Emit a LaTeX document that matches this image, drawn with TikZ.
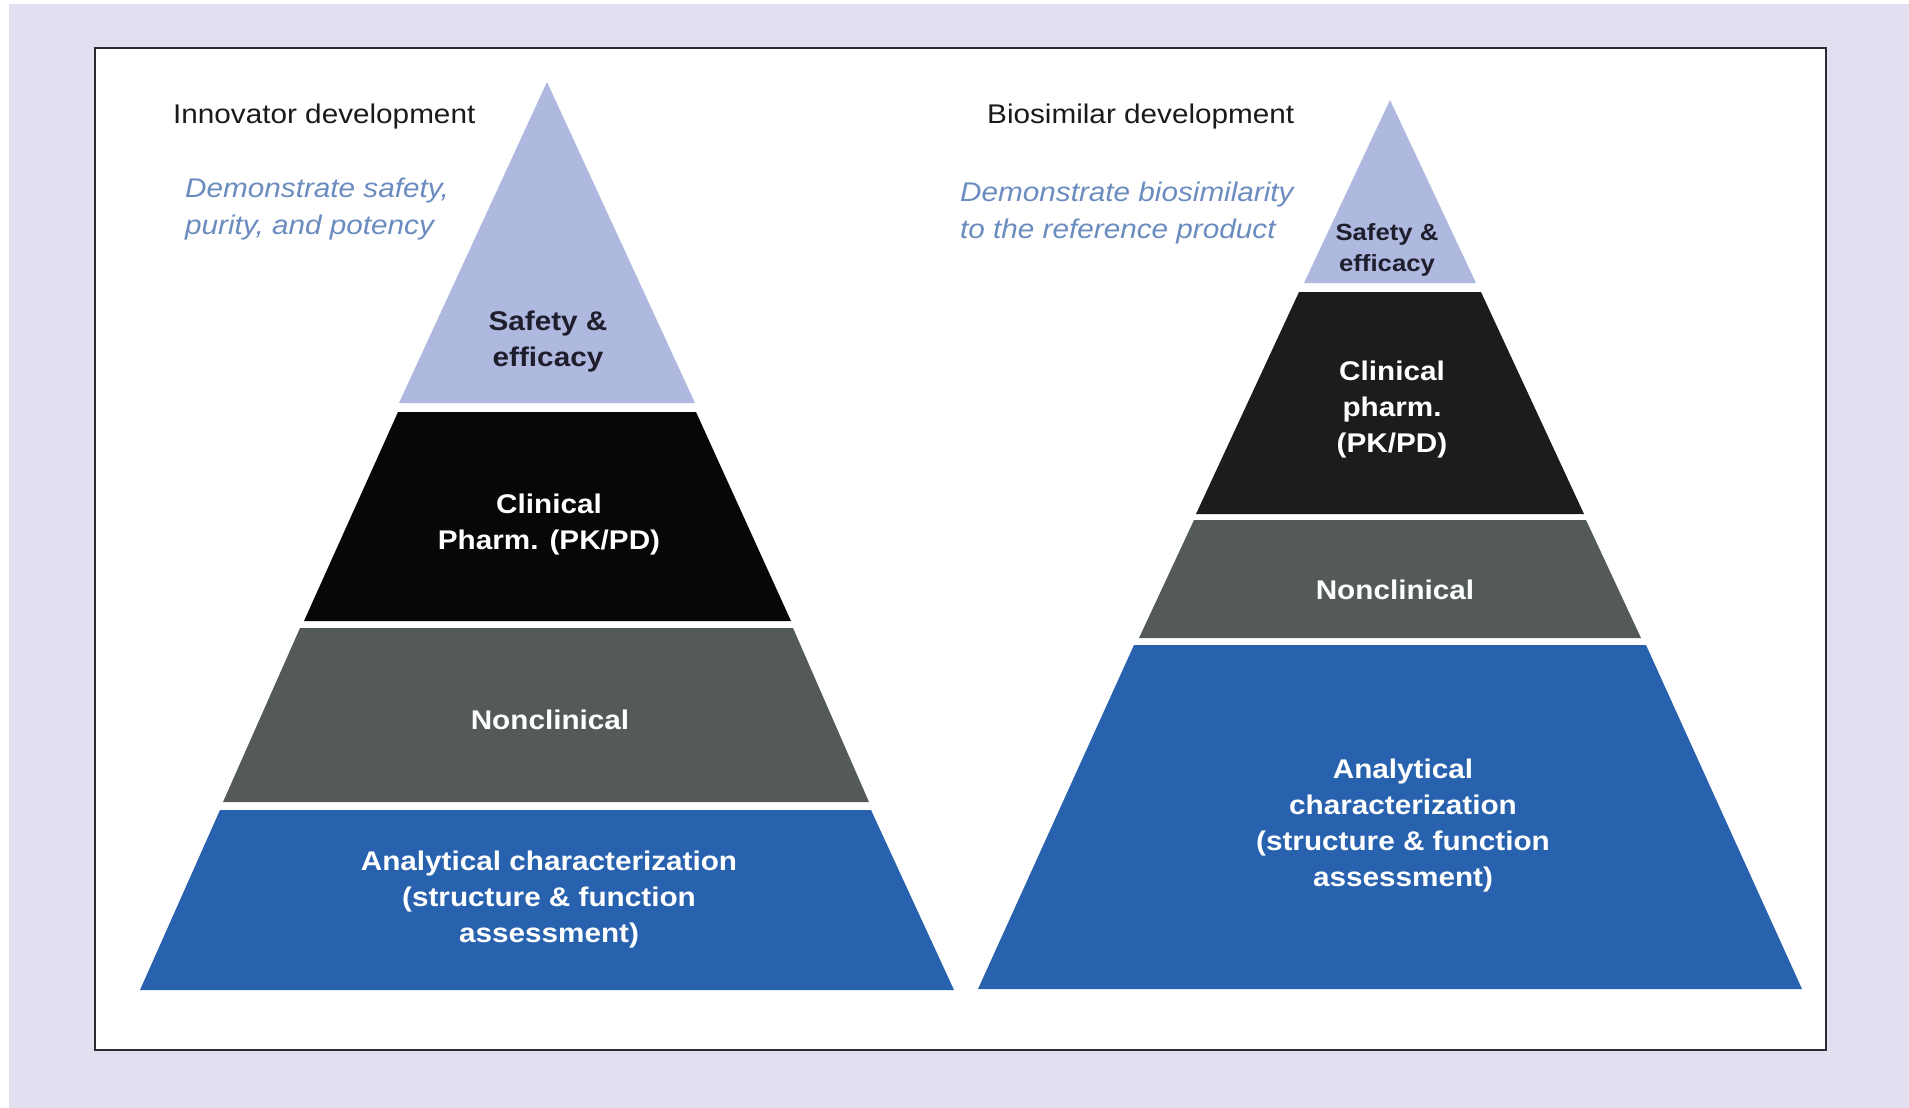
\documentclass[tikz,border=0pt]{standalone}
\usepackage{fontspec}
\setmainfont{Liberation Sans}[FakeStretch=1.1]
\definecolor{pagebg}{HTML}{E3DFF0}
\definecolor{framecol}{HTML}{2B2B33}
\definecolor{tierS}{HTML}{AFB8DE}
\definecolor{tierCL}{HTML}{070707}
\definecolor{tierCR}{HTML}{1C1B1D}
\definecolor{tierN}{HTML}{545A5A}
\definecolor{tierA}{HTML}{2862AE}
\definecolor{goalblue}{HTML}{6B8CBF}
\definecolor{darktext}{HTML}{1E1E2C}
\definecolor{titletext}{HTML}{1A1A1A}
\begin{document}
\begin{tikzpicture}[x=1pt,y=-1pt,
  tierlabel/.style={font=\bfseries\fontsize{27}{36}\selectfont, text=white, align=center, inner sep=0pt},
  heading/.style={font=\fontsize{27}{36}\selectfont, text=titletext, inner sep=0pt, anchor=base west},
  goal/.style={font=\itshape\fontsize{27}{36.5}\selectfont, text=goalblue, inner sep=0pt, align=left, anchor=north west}]
\useasboundingbox (0,0) rectangle (1909,1108);
% page and panel
\fill[white] (0,0) rectangle (1909,1108);
\fill[pagebg] (9,4) rectangle (1909,1108);
\draw[framecol, line width=2.5pt, fill=white] (95,48) rectangle (1826,1050);

% innovator pyramid
\fill[tierS]  (547,82) -- (695,403) -- (399,403) -- cycle;
\fill[tierCL] (398,412) -- (696,412) -- (791,621) -- (304,621) -- cycle;
\fill[tierN]  (300,628) -- (793,628) -- (869,802) -- (223,802) -- cycle;
\fill[tierA]  (220,810) -- (871,810) -- (954,990) -- (140,990) -- cycle;

% biosimilar pyramid
\fill[tierS]  (1390,100) -- (1476,283) -- (1304,283) -- cycle;
\fill[tierCR] (1299,292) -- (1481,292) -- (1584,514) -- (1196,514) -- cycle;
\fill[tierN]  (1194,520) -- (1586,520) -- (1641,638) -- (1139,638) -- cycle;
\fill[tierA]  (1134,645) -- (1646,645) -- (1802,989) -- (978,989) -- cycle;

% headings and goals
\node[heading] (innovTitle) at (173,123) {Innovator development};
\node[heading] (bioTitle) at (987,123) {Biosimilar development};
\node[goal] (innovGoal) at (185,178) {Demonstrate safety,\\purity, and potency};
\node[goal] (bioGoal) at (960,182) {Demonstrate biosimilarity\\to the reference product};

% innovator tier labels
\node[tierlabel, text=darktext] (iSafety) at (548,342) {Safety \&\\efficacy};
\node[tierlabel] (iClin) at (549,525) {Clinical\\Pharm. (PK/PD)};
\node[tierlabel] (iNon) at (550,720) {Nonclinical};
\node[tierlabel] (iAna) at (549,899.5) {Analytical characterization\\(structure \& function\\assessment)};

% biosimilar tier labels
\node[tierlabel, text=darktext, font=\bfseries\fontsize{23.4}{31}\selectfont] (bSafety) at (1387,250) {Safety \&\\efficacy};
\node[tierlabel] (bClin) at (1392,410) {Clinical\\pharm.\\(PK/PD)};
\node[tierlabel] (bNon) at (1395,589.5) {Nonclinical};
\node[tierlabel] (bAna) at (1403,825.5) {Analytical\\characterization\\(structure \& function\\assessment)};
\end{tikzpicture}
\end{document}
